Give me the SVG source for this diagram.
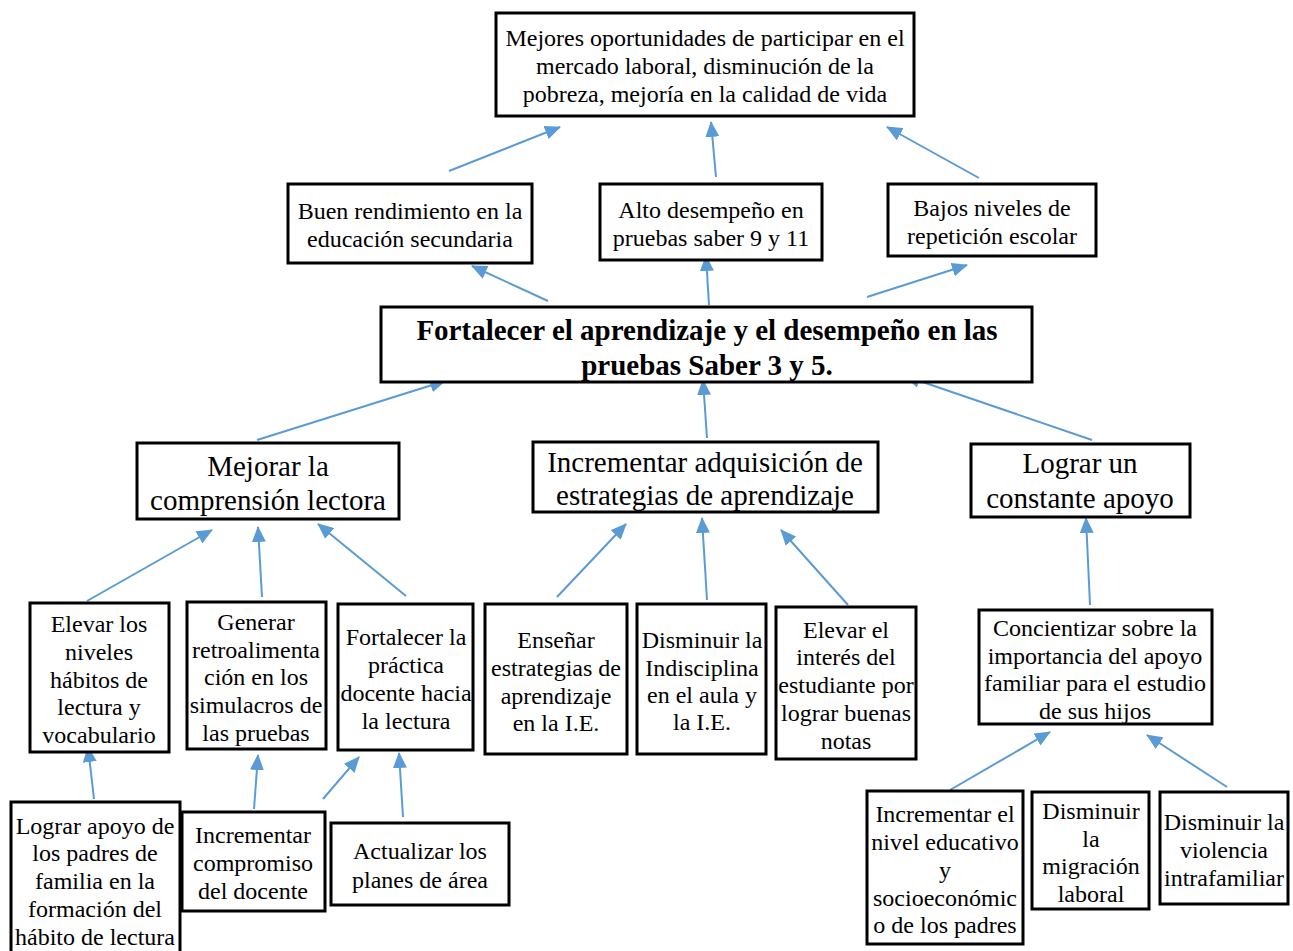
<svg xmlns="http://www.w3.org/2000/svg" width="1293" height="951" viewBox="0 0 1293 951">
<defs>
<marker id="ah" markerUnits="userSpaceOnUse" markerWidth="16" markerHeight="14" refX="15" refY="7" orient="auto">
<path d="M0,0 L16,7 L0,14 z" fill="#5B9BD5"/>
</marker>
<style>
rect{fill:#fff;stroke:#000;stroke-width:3}
text{font-family:"Liberation Serif","Times New Roman",serif;font-size:24px;fill:#000;text-anchor:middle}
.b{font-weight:bold;font-size:29px}
.m{font-size:29px}
#connectors line{stroke:#5B9BD5;stroke-width:2;marker-end:url(#ah)}
</style>
</defs>
<rect x="0" y="0" width="1293" height="951" style="fill:#fff;stroke:none"/>
<g id="connectors">
<line x1="449" y1="171" x2="560" y2="127"/>
<line x1="716" y1="177" x2="711" y2="122"/>
<line x1="979" y1="178" x2="887" y2="127"/>
<line x1="548" y1="301" x2="472" y2="266"/>
<line x1="709" y1="305" x2="706" y2="256"/>
<line x1="867" y1="297" x2="967" y2="265"/>
<line x1="257" y1="440" x2="445" y2="381"/>
<line x1="707" y1="438" x2="703" y2="380"/>
<line x1="1092" y1="440" x2="905" y2="376"/>
<line x1="87" y1="601" x2="212" y2="530"/>
<line x1="262" y1="597" x2="258" y2="527"/>
<line x1="406" y1="596" x2="318" y2="524"/>
<line x1="557" y1="597" x2="626" y2="524"/>
<line x1="707" y1="600" x2="702" y2="518"/>
<line x1="848" y1="605" x2="781" y2="530"/>
<line x1="1090" y1="605" x2="1086" y2="518"/>
<line x1="94" y1="799" x2="88" y2="747"/>
<line x1="254" y1="809" x2="258" y2="755"/>
<line x1="323" y1="799" x2="359" y2="757"/>
<line x1="403" y1="817" x2="399" y2="753"/>
<line x1="950" y1="790" x2="1050" y2="732"/>
<line x1="1227" y1="787" x2="1147" y2="735"/>
</g>
<g id="n_top"><rect x="496" y="13" width="418" height="103"/>
<text x="705" y="46">Mejores oportunidades de participar en el</text>
<text x="705" y="74">mercado laboral, disminución de la</text>
<text x="705" y="102">pobreza, mejoría en la calidad de vida</text></g>
<g id="n_buen"><rect x="288" y="184" width="244" height="79"/>
<text x="410" y="219">Buen rendimiento en la</text>
<text x="410" y="247">educación secundaria</text></g>
<g id="n_alto"><rect x="600" y="184" width="222" height="76"/>
<text x="711" y="218">Alto desempeño en</text>
<text x="711" y="246">pruebas saber 9 y 11</text></g>
<g id="n_bajos"><rect x="888" y="184" width="208" height="72"/>
<text x="992" y="216">Bajos niveles de</text>
<text x="992" y="244">repetición escolar</text></g>
<g id="n_main"><rect x="381" y="307" width="651" height="75"/>
<text class="b" x="707" y="340">Fortalecer el aprendizaje y el desempeño en las</text>
<text class="b" x="707" y="375">pruebas Saber 3 y 5.</text></g>
<g id="n_mejorar"><rect x="137" y="443" width="262" height="76"/>
<text class="m" x="268" y="476">Mejorar la</text>
<text class="m" x="268" y="510">comprensión lectora</text></g>
<g id="n_incadq"><rect x="533" y="442" width="345" height="70"/>
<text class="m" x="705" y="472">Incrementar adquisición de</text>
<text class="m" x="705" y="505">estrategias de aprendizaje</text></g>
<g id="n_lograr"><rect x="971" y="444" width="219" height="73"/>
<text class="m" x="1080" y="473">Lograr un</text>
<text class="m" x="1080" y="508">constante apoyo</text></g>
<g id="n_elevar"><rect x="30" y="603" width="139" height="149"/>
<text x="99" y="632">Elevar los</text>
<text x="99" y="660">niveles</text>
<text x="99" y="688">hábitos de</text>
<text x="99" y="715">lectura y</text>
<text x="99" y="743">vocabulario</text></g>
<g id="n_generar"><rect x="187" y="602" width="139" height="147"/>
<text x="256" y="630">Generar</text>
<text x="256" y="658">retroalimenta</text>
<text x="256" y="685">ción en los</text>
<text x="256" y="713">simulacros de</text>
<text x="256" y="741">las pruebas</text></g>
<g id="n_fortpract"><rect x="338" y="604" width="135" height="146"/>
<text x="406" y="645">Fortalecer la</text>
<text x="406" y="673">práctica</text>
<text x="406" y="701">docente hacia</text>
<text x="406" y="729">la lectura</text></g>
<g id="n_ensenar"><rect x="485" y="604" width="142" height="150"/>
<text x="556" y="648">Enseñar</text>
<text x="556" y="676">estrategias de</text>
<text x="556" y="704">aprendizaje</text>
<text x="556" y="731">en la I.E.</text></g>
<g id="n_indis"><rect x="637" y="604" width="129" height="150"/>
<text x="702" y="648">Disminuir la</text>
<text x="702" y="676">Indisciplina</text>
<text x="702" y="703">en el aula y</text>
<text x="702" y="730">la I.E.</text></g>
<g id="n_interes"><rect x="776" y="607" width="140" height="152"/>
<text x="846" y="638">Elevar el</text>
<text x="846" y="665">interés del</text>
<text x="846" y="693">estudiante por</text>
<text x="846" y="721">lograr buenas</text>
<text x="846" y="749">notas</text></g>
<g id="n_concien"><rect x="979" y="610" width="233" height="114"/>
<text x="1095" y="636">Concientizar sobre la</text>
<text x="1095" y="664">importancia del apoyo</text>
<text x="1095" y="691">familiar para el estudio</text>
<text x="1095" y="719">de sus hijos</text></g>
<g id="n_padres"><rect x="11" y="802" width="169" height="152"/>
<text x="95" y="834">Lograr apoyo de</text>
<text x="95" y="861">los padres de</text>
<text x="95" y="889">familia en la</text>
<text x="95" y="917">formación del</text>
<text x="95" y="945">hábito de lectura</text></g>
<g id="n_compromiso"><rect x="182" y="812" width="143" height="99"/>
<text x="253" y="843">Incrementar</text>
<text x="253" y="871">compromiso</text>
<text x="253" y="899">del docente</text></g>
<g id="n_planes"><rect x="331" y="823" width="178" height="82"/>
<text x="420" y="859">Actualizar los</text>
<text x="420" y="888">planes de área</text></g>
<g id="n_nivel"><rect x="867" y="791" width="156" height="153"/>
<text x="945" y="822">Incrementar el</text>
<text x="945" y="850">nivel educativo</text>
<text x="945" y="878">y</text>
<text x="945" y="906">socioeconómic</text>
<text x="945" y="933">o de los padres</text></g>
<g id="n_migra"><rect x="1032" y="792" width="117" height="117"/>
<text x="1091" y="819">Disminuir</text>
<text x="1091" y="847">la</text>
<text x="1091" y="874">migración</text>
<text x="1091" y="902">laboral</text></g>
<g id="n_viol"><rect x="1160" y="792" width="128" height="112"/>
<text x="1224" y="830">Disminuir la</text>
<text x="1224" y="858">violencia</text>
<text x="1224" y="886">intrafamiliar</text></g>
</svg>
